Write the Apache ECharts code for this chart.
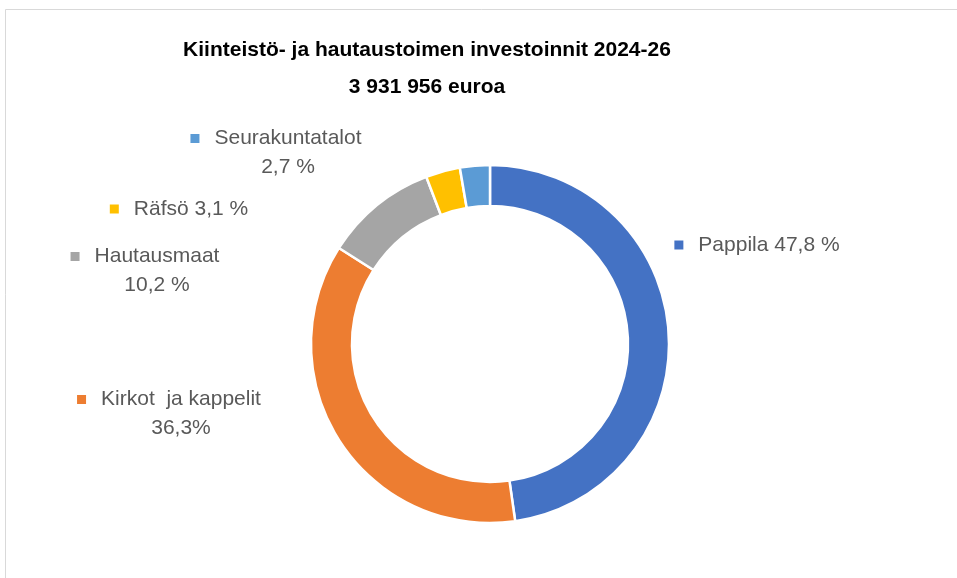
<!DOCTYPE html>
<html>
<head>
<meta charset="utf-8">
<script src="https://cdn.jsdelivr.net/npm/echarts@6/dist/echarts.min.js"></script>
<style>
  html, body { margin: 0; padding: 0; background: #fff; }
  #chart { width: 957px; height: 578px; }
</style>
</head>
<body>
<div id="chart"></div>
<script>
// data
var categories = ['Pappila', 'Kirkot  ja kappelit', 'Hautausmaat', 'Räfsö', 'Seurakuntatalot'];
var shares = [47.8, 36.3, 10.2, 3.1, 2.7];
var shareSuffix = [' %', '%', ' %', ' %', ' %'];
var colors = ['#4472C4', '#ED7D31', '#A5A5A5', '#FFC000', '#5B9BD5'];

// label placement (centre of text block), two-line or not
var labelPos = [
	{ x: 769, y: 245, wrap: false },
	{ x: 181, y: 414, wrap: true },
	{ x: 157, y: 271, wrap: true },
	{ x: 191, y: 209, wrap: false },
	{ x: 288, y: 153, wrap: true }
];

var chart = echarts.init(document.getElementById('chart'));

var rich = {
	t: { fontSize: 21, color: '#595959', fontFamily: 'Liberation Sans', lineHeight: 29 },
	g: { width: 15, height: 9 },
	s: { width: 9, height: 9 }
};
colors.forEach(function (c, i) {
	rich['m' + i] = { width: 9, height: 9, backgroundColor: c };
});

var option = {
	backgroundColor: '#fff',
	animation: false,
	title: {
		text: 'Kiinteistö- ja hautaustoimen investoinnit 2024-26\n3 931 956 euroa',
		left: 422,
		top: 27,
		textAlign: 'center',
		textStyle: {
			fontFamily: 'Liberation Sans',
			fontWeight: 'bold',
			fontSize: 21,
			color: '#000',
			lineHeight: 37
		}
	},
	graphic: [
		{
			type: 'rect',
			shape: { x: 5.5, y: 9.5, width: 1000, height: 600 },
			style: { fill: 'none', stroke: '#d9d9d9', lineWidth: 1 },
			silent: true
		}
	],
	series: [
		{
			type: 'pie',
			center: [490, 344],
			radius: [138, 179],
			startAngle: 90,
			clockwise: true,
			avoidLabelOverlap: false,
			itemStyle: { borderColor: '#fff', borderWidth: 2.5 },
			label: {
				show: true,
				position: 'outside',
				rich: rich,
				formatter: function (p) {
					var i = p.dataIndex;
					var pct = String(shares[i]).replace('.', ',') + shareSuffix[i];
					var head = '{m' + i + '| }{g| }{t|' + p.name;
					if (labelPos[i].wrap) {
						return head + '}{g| }{s| }\n{t|' + pct + '}';
					}
					return head + ' ' + pct + '}{g| }{s| }';
				}
			},
			labelLine: { show: false },
			labelLayout: function (params) {
				var p = labelPos[params.dataIndex];
				return { x: p.x, y: p.y, align: 'center', verticalAlign: 'middle' };
			},
			emphasis: { disabled: true },
			data: categories.map(function (name, i) {
				return { name: name, value: shares[i], itemStyle: { color: colors[i] } };
			})
		}
	]
};

chart.setOption(option);
</script>
</body>
</html>
